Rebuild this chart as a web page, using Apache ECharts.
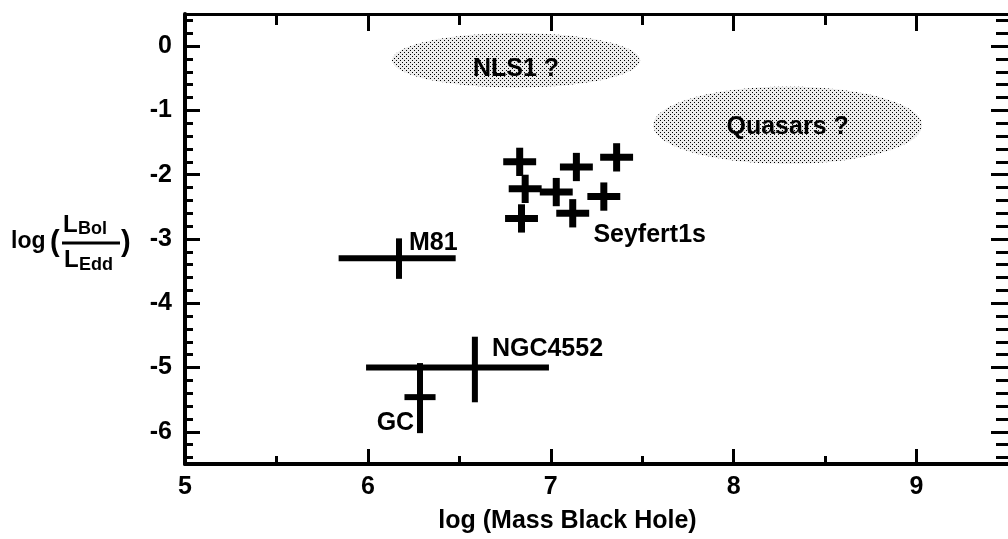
<!DOCTYPE html>
<html><head><meta charset="utf-8">
<script src="https://cdn.jsdelivr.net/npm/echarts@6/dist/echarts.min.js"></script>
<style>html,body{margin:0;padding:0;background:#fff}#c{width:1008px;height:539px}</style>
</head><body><div id="c"></div>
<script>
// ---- axis ticks ----
const xMajorTicks = [5, 6, 7, 8, 9];
const xMinorTicks = [5.5, 6.5, 7.5, 8.5];
const yMajorTicks = [0, -1, -2, -3, -4, -5, -6];
const yMinorTicks = [];
for (let k = 2; k >= -32; k--) { if (k % 5 !== 0) yMinorTicks.push(k / 5); }

// ---- Seyfert 1 crosses ----
const seyfertX    = [6.83, 7.14, 7.36, 6.86, 7.03, 7.29, 6.84, 7.12];
const seyfertY    = [-1.80, -1.88, -1.73, -2.22, -2.27, -2.34, -2.68, -2.60];
const seyfertXErr = [0.09, 0.09, 0.09, 0.09, 0.09, 0.09, 0.09, 0.09];
const seyfertYErr = [0.22, 0.22, 0.22, 0.22, 0.22, 0.22, 0.22, 0.22];

// ---- individual objects (M81, NGC4552, GC) ----
const objNames = ['M81', 'NGC4552', 'GC'];
const objX   = [6.17, 6.585, 6.285];
const objY   = [-3.30, -5.00, -5.46];
const objXLo = [5.84, 5.99, 6.20];
const objXHi = [6.48, 6.99, 6.37];
const objYLo = [-3.62, -5.54, -6.02];
const objYHi = [-2.99, -4.52, -4.93];

// ---- text labels ----
const labelText = ['M81', 'Seyfert1s', 'NGC4552'];
const labelX = [6.225, 7.233, 6.678];
const labelY = [-3.02, -2.89, -4.67];
const gcLabelText = ['GC'];
const gcLabelX = [6.253];
const gcLabelY = [-5.81];

// ---- regions (ellipses) ----
const regionNames  = ['NLS1 ?', 'Quasars ?'];
const regionCX = [6.81, 8.295];
const regionCY = [-0.22, -1.23];
const regionRX = [0.678, 0.735];
const regionRY = [0.423, 0.60];
const regionLabelY = [-0.31, -1.215];

const FONT = '"Liberation Sans", Arial, Helvetica, sans-serif';

// halftone pattern
const pc = document.createElement('canvas');
pc.width = 4; pc.height = 4;
const pctx = pc.getContext('2d');
pctx.fillStyle = '#ececec'; pctx.fillRect(0, 0, 4, 4);
pctx.fillStyle = '#000';
pctx.fillRect(0, 0, 1, 1); pctx.fillRect(2, 2, 1, 1);

function crossRender(lw) {
  return function (params, api) {
    const xc = api.value(0), yc = api.value(1);
    const l = api.coord([api.value(2), yc]), r = api.coord([api.value(3), yc]);
    const b = api.coord([xc, api.value(4)]), t = api.coord([xc, api.value(5)]);
    return { type: 'group', children: [
      { type: 'line', shape: { x1: l[0], y1: l[1], x2: r[0], y2: r[1] }, style: { stroke: '#000', lineWidth: lw } },
      { type: 'line', shape: { x1: b[0], y1: b[1], x2: t[0], y2: t[1] }, style: { stroke: '#000', lineWidth: lw } }
    ]};
  };
}
function textRender(align, texts) {
  return function (params, api) {
    const p = api.coord([api.value(0), api.value(1)]);
    return { type: 'text', x: p[0], y: p[1] + 3,
      style: { text: texts[params.dataIndex], font: 'bold 25px ' + FONT, fill: '#000', textAlign: align, textVerticalAlign: 'middle' } };
  };
}
function ellipseRender(params, api) {
  const cx = api.value(0), cy = api.value(1), rx = api.value(2), ry = api.value(3);
  const pts = [];
  for (let i = 0; i < 90; i++) {
    const a = i / 90 * Math.PI * 2;
    pts.push(api.coord([cx + rx * Math.cos(a), cy + ry * Math.sin(a)]));
  }
  return { type: 'polygon', shape: { points: pts }, style: { fill: { image: pc, repeat: 'repeat' }, stroke: null } };
}

const seyfertData = seyfertX.map((x, i) => [x, seyfertY[i], x - seyfertXErr[i], x + seyfertXErr[i], seyfertY[i] - seyfertYErr[i], seyfertY[i] + seyfertYErr[i]]);
const objData = objNames.map((n, i) => ({ name: n, value: [objX[i], objY[i], objXLo[i], objXHi[i], objYLo[i], objYHi[i]] }));
const labelData = labelText.map((t, i) => ({ name: t, value: [labelX[i], labelY[i]] }));
const gcLabelData = gcLabelText.map((t, i) => ({ name: t, value: [gcLabelX[i], gcLabelY[i]] }));
const regionData = regionNames.map((n, i) => ({ name: n, value: [regionCX[i], regionCY[i], regionRX[i], regionRY[i]] }));
const regionLabelData = regionNames.map((n, i) => ({ name: n, value: [regionCX[i], regionLabelY[i]] }));

const tickLbl = { fontFamily: FONT, fontWeight: 'bold', fontSize: 25, color: '#000' };
function xAx(pos, ticks, len, lineOn, lw, labels) {
  return { type: 'value', position: pos, min: 5, max: 9.5,
    axisLine: { show: lineOn, onZero: false, lineStyle: { color: '#000', width: lw } },
    axisTick: { show: true, inside: true, length: len, customValues: ticks, lineStyle: { color: '#000', width: 3 } },
    axisLabel: labels ? Object.assign({ show: true, customValues: ticks, margin: 11 }, tickLbl) : { show: false },
    splitLine: { show: false } };
}
function yAx(pos, ticks, len, lineOn, lw, labels) {
  return { type: 'value', position: pos, min: -6.5, max: 0.5,
    axisLine: { show: lineOn, onZero: false, lineStyle: { color: '#000', width: lw } },
    axisTick: { show: true, inside: true, length: len, customValues: ticks, lineStyle: { color: '#000', width: 3 } },
    axisLabel: labels ? Object.assign({ show: true, customValues: ticks, margin: 13 }, tickLbl) : { show: false },
    splitLine: { show: false } };
}

const xAxes = [
  Object.assign(xAx('bottom', xMajorTicks, 15, true, 4, true), {
    name: 'log (Mass Black Hole)', nameLocation: 'middle', nameGap: 45,
    nameTextStyle: { fontFamily: FONT, fontWeight: 'bold', fontSize: 25, color: '#000', padding: [0, 58, 0, 0] } }),
  xAx('bottom', xMinorTicks, 8, false, 4, false),
  xAx('top', xMajorTicks, 17, true, 3, false),
  xAx('top', xMinorTicks, 11, false, 3, false)
];
const yAxes = [
  yAx('left', yMajorTicks, 15, true, 4, true),
  yAx('left', yMinorTicks, 8, false, 4, false),
  yAx('right', yMajorTicks, 17, false, 4, false),
  yAx('right', yMinorTicks, 12, false, 4, false)
];

const chart = echarts.init(document.getElementById('c'), null, { renderer: 'canvas' });
chart.setOption({
  animation: false,
  backgroundColor: '#fff',
  grid: { left: 185, right: -4, top: 14, bottom: 72, containLabel: false },
  xAxis: xAxes,
  yAxis: yAxes,
  graphic: [
    { type: 'text', x: 11, y: 242, style: { text: 'log', font: 'bold 23px ' + FONT, fill: '#000', textAlign: 'left', textVerticalAlign: 'middle' } },
    { type: 'text', x: 50, y: 243, style: { text: '(', font: 'bold 29px ' + FONT, fill: '#000', textAlign: 'left', textVerticalAlign: 'middle' } },
    { type: 'text', x: 63, y: 225, style: { text: 'L', font: 'bold 24px ' + FONT, fill: '#000', textAlign: 'left', textVerticalAlign: 'middle' } },
    { type: 'text', x: 78, y: 229, style: { text: 'Bol', font: 'bold 18px ' + FONT, fill: '#000', textAlign: 'left', textVerticalAlign: 'middle' } },
    { type: 'line', shape: { x1: 62, y1: 243, x2: 120, y2: 243 }, style: { stroke: '#000', lineWidth: 3 } },
    { type: 'text', x: 64, y: 260, style: { text: 'L', font: 'bold 24px ' + FONT, fill: '#000', textAlign: 'left', textVerticalAlign: 'middle' } },
    { type: 'text', x: 79, y: 265, style: { text: 'Edd', font: 'bold 18px ' + FONT, fill: '#000', textAlign: 'left', textVerticalAlign: 'middle' } },
    { type: 'text', x: 121, y: 243, style: { text: ')', font: 'bold 29px ' + FONT, fill: '#000', textAlign: 'left', textVerticalAlign: 'middle' } }
  ],
  series: [
    { type: 'custom', name: 'regions', xAxisIndex: 0, yAxisIndex: 0, renderItem: ellipseRender, data: regionData, z: 1, silent: true },
    { type: 'custom', name: 'regionLabels', xAxisIndex: 0, yAxisIndex: 0, renderItem: textRender('center', regionNames), data: regionLabelData, z: 3, silent: true },
    { type: 'custom', name: 'Seyfert1s', xAxisIndex: 0, yAxisIndex: 0, renderItem: crossRender(7), data: seyfertData, z: 2, silent: true },
    { type: 'custom', name: 'objects', xAxisIndex: 0, yAxisIndex: 0, renderItem: crossRender(6), data: objData, z: 2, silent: true },
    { type: 'custom', name: 'labels', xAxisIndex: 0, yAxisIndex: 0, renderItem: textRender('left', labelText), data: labelData, z: 3, silent: true },
    { type: 'custom', name: 'gcLabel', xAxisIndex: 0, yAxisIndex: 0, renderItem: textRender('right', gcLabelText), data: gcLabelData, z: 3, silent: true }
  ]
});
</script></body></html>
